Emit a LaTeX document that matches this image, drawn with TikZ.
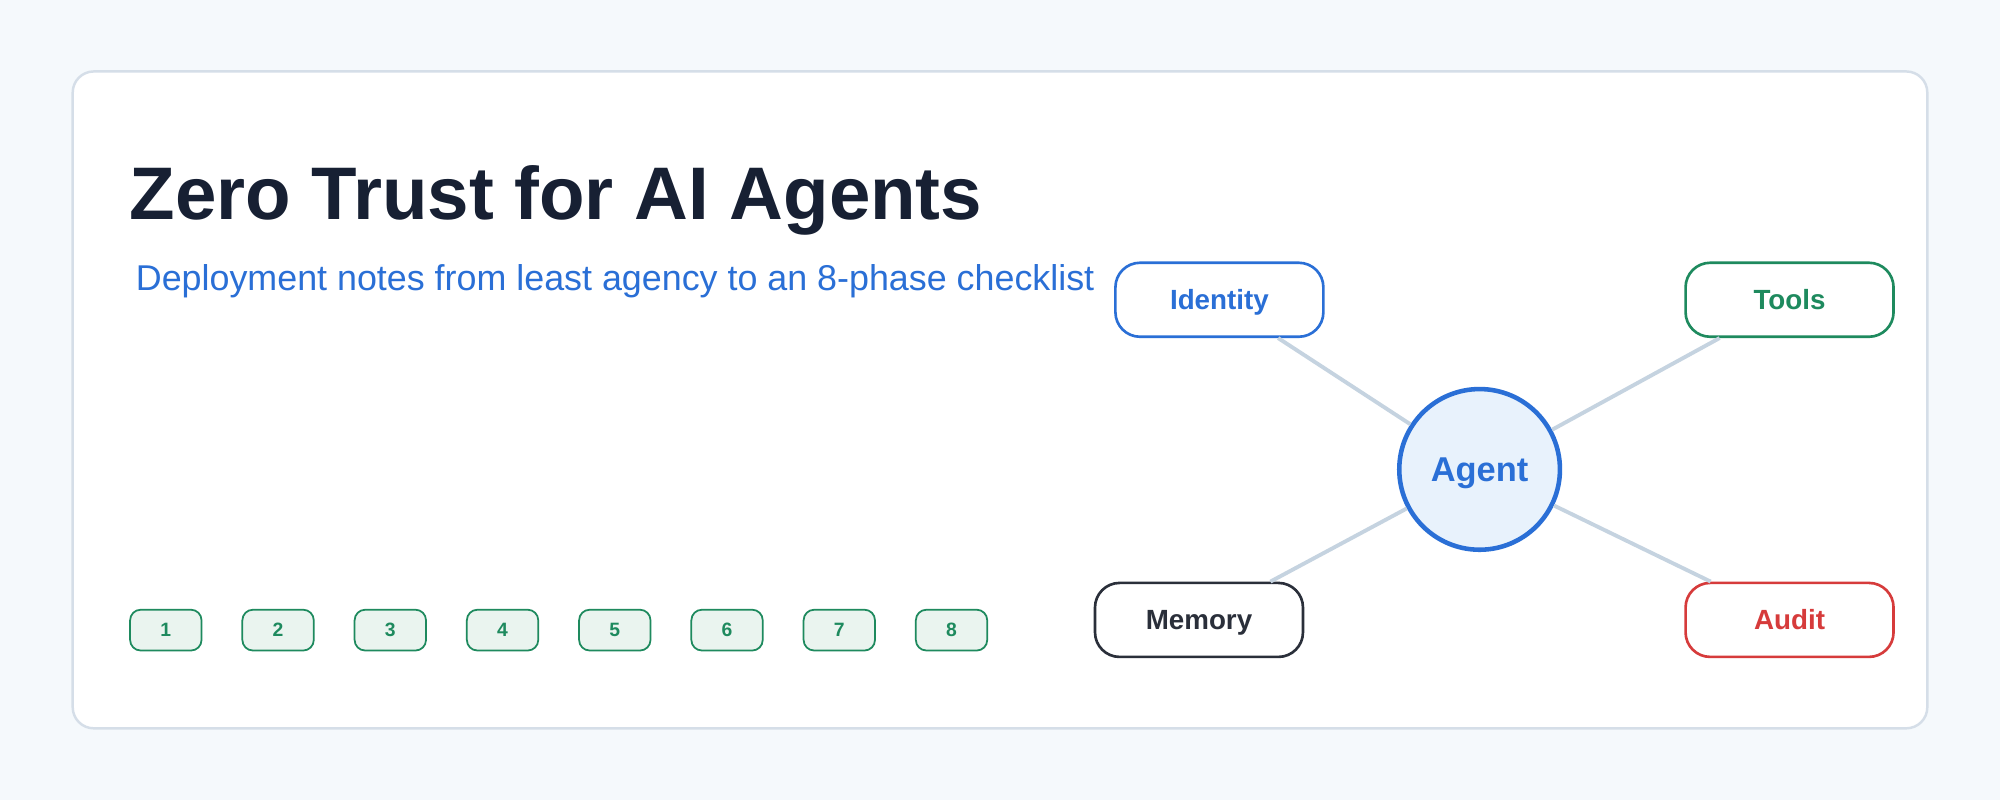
\documentclass[tikz,border=0pt]{standalone}
\usepackage{fontspec}
\setmainfont{Liberation Sans}
\usetikzlibrary{positioning}
\definecolor{pagebg}{HTML}{F5F9FC}
\definecolor{cardline}{HTML}{D5DEE8}
\definecolor{ink}{HTML}{172033}
\definecolor{zblue}{HTML}{2A6FD6}
\definecolor{zgreen}{HTML}{1E8A5E}
\definecolor{zred}{HTML}{D63B3B}
\definecolor{zdark}{HTML}{2A2F3A}
\definecolor{linkline}{HTML}{C5D3E0}
\definecolor{agentfill}{HTML}{E8F2FC}
\definecolor{phasefill}{HTML}{EAF4EF}
\begin{document}
\begin{tikzpicture}[%
    x=0.012755cm, y=-0.012755cm,
    box/.style={draw, fill=white, rounded corners=7pt, line width=0.75pt,
        minimum width=2.08cm, minimum height=0.74cm, inner sep=0pt,
        text depth=0pt, font=\fontsize{7.9pt}{9pt}\selectfont\bfseries},
    phase/.style={draw=zgreen, fill=phasefill, text=zgreen, rounded corners=3pt,
        line width=0.5pt, minimum width=0.714cm, minimum height=0.408cm,
        inner sep=0pt, font=\fontsize{5.5pt}{6pt}\selectfont\bfseries},
    link/.style={draw=linkline, line width=1.1pt}
    ]

    \fill[pagebg] (0,0) rectangle (1568,627);
    \draw[cardline, fill=white, line width=0.7pt, rounded corners=6pt] (57,56) rectangle (1511,571);

    \node[anchor=base west, text=ink, inner sep=0pt,
        font=\fontsize{21.2pt}{25pt}\selectfont\bfseries] (title) at (101,172) {Zero Trust for AI Agents};
    \node[anchor=base west, text=zblue, inner sep=0pt,
        font=\fontsize{10.2pt}{12pt}\selectfont] (subtitle) at (106,228) {Deployment notes from least agency to an 8-phase checklist};

    \node[draw=zblue, fill=agentfill, circle, line width=1.3pt, minimum size=1.607cm,
        inner sep=0pt, text depth=0pt, text=zblue, font=\fontsize{9.8pt}{11pt}\selectfont\bfseries] (agent) at (1160,368) {Agent};
    \node[box, draw=zblue, text=zblue] (identity) at (956,235) {Identity};
    \node[box, draw=zgreen, text=zgreen] (tools) at (1403,235) {Tools};
    \node[box, draw=zdark, text=zdark] (memory) at (940,486) {Memory};
    \node[box, draw=zred, text=zred] (audit) at (1403,486) {Audit};

    \begin{scope}[on background layer/.try]
    \foreach \n in {identity,tools,memory,audit}
        \path[link] (agent) -- (\n);
    \end{scope}

    \foreach \i in {1,...,8}
        \node[phase] (phase\i) at ({130+88*(\i-1)},494) {\i};

\end{tikzpicture}
\end{document}
